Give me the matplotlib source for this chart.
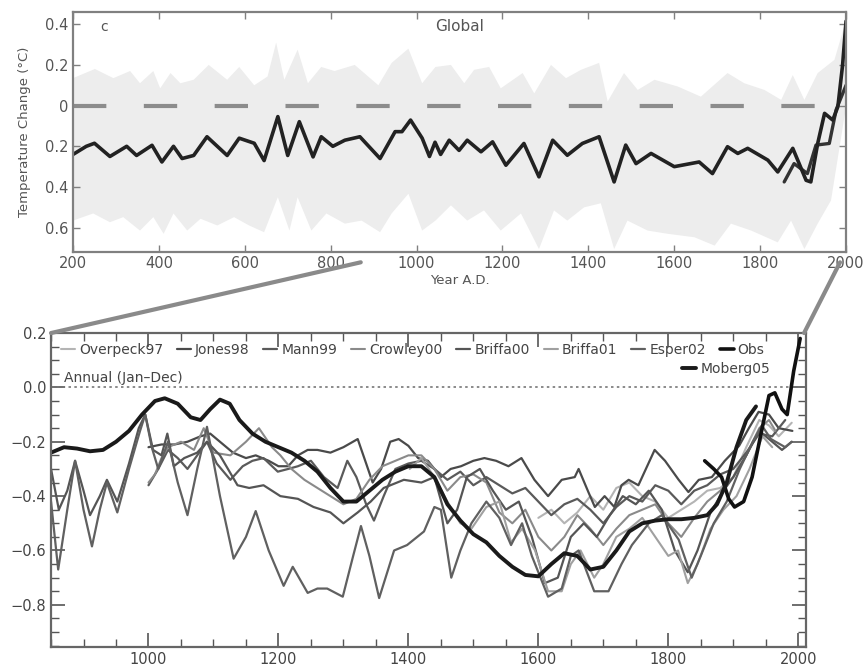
import numpy as np
import matplotlib
matplotlib.use("Agg")
import matplotlib.pyplot as plt
from matplotlib.patches import ConnectionPatch
from matplotlib.ticker import MultipleLocator, FixedLocator

plt.rcParams['font.family'] = ['DejaVu Sans']
plt.rcParams['lines.solid_joinstyle'] = 'round'
plt.rcParams['lines.solid_capstyle'] = 'round'

# ---- upper panel: global reconstruction with uncertainty band ----
glob_years = [200, 231, 250, 286, 325, 348, 384, 407, 434, 454, 481, 512, 559, 587, 622, 645,
              677, 700, 727, 759, 778, 805, 833, 868, 915, 950, 966, 986, 1013, 1030, 1043,
              1056, 1076, 1099, 1118, 1150, 1177, 1208, 1250, 1285, 1317, 1351, 1386, 1425,
              1460, 1487, 1511, 1546, 1600, 1658, 1689, 1724, 1748, 1771, 1818, 1841, 1876,
              1907, 1918, 1934, 1950, 1969, 1981, 1992, 2000]
glob_temp = [-0.24, -0.2, -0.185, -0.25, -0.2, -0.245, -0.195, -0.277, -0.2, -0.26, -0.245,
             -0.153, -0.245, -0.16, -0.185, -0.27, -0.054, -0.245, -0.079, -0.252, -0.153,
             -0.2, -0.17, -0.153, -0.26, -0.128, -0.128, -0.071, -0.16, -0.25, -0.18, -0.24,
             -0.17, -0.22, -0.17, -0.227, -0.178, -0.293, -0.186, -0.35, -0.17, -0.244,
             -0.186, -0.153, -0.375, -0.194, -0.285, -0.235, -0.3, -0.277, -0.334, -0.202,
             -0.235, -0.21, -0.268, -0.326, -0.21, -0.367, -0.375, -0.186, -0.038, -0.071,
             -0.005, 0.2, 0.415]

inst_years = [1856, 1879, 1910, 1930, 1961, 1977, 2000]
inst_temp = [-0.375, -0.285, -0.334, -0.194, -0.186, -0.02, 0.10]

band_up_years = [200, 251, 294, 333, 356, 387, 403, 427, 450, 481, 516, 559, 587, 622, 653,
                 673, 692, 723, 747, 778, 809, 856, 911, 942, 981, 1013, 1044, 1080, 1111,
                 1134, 1169, 1196, 1247, 1274, 1313, 1348, 1383, 1425, 1445, 1483, 1515,
                 1554, 1608, 1662, 1724, 1763, 1810, 1849, 1876, 1903, 1934, 1973, 2000]
band_upper = [0.135, 0.18, 0.135, 0.17, 0.11, 0.17, 0.085, 0.16, 0.11, 0.127, 0.2, 0.127,
              0.19, 0.1, 0.143, 0.31, 0.127, 0.275, 0.11, 0.19, 0.17, 0.2, 0.1, 0.21, 0.28,
              0.11, 0.19, 0.2, 0.11, 0.176, 0.19, 0.085, 0.16, 0.06, 0.2, 0.135, 0.176, 0.21,
              0.02, 0.16, 0.077, 0.127, 0.094, 0.044, 0.16, 0.11, 0.077, 0.028, 0.15, 0.028,
              0.16, 0.225, 0.42]
band_lo_years = [200, 247, 286, 317, 356, 387, 411, 434, 466, 497, 536, 575, 610, 645, 677,
                 704, 723, 755, 790, 833, 872, 915, 942, 981, 1013, 1044, 1080, 1118, 1157,
                 1196, 1243, 1285, 1320, 1351, 1390, 1429, 1460, 1491, 1538, 1585, 1647,
                 1694, 1732, 1779, 1841, 1872, 1903, 1934, 1965, 2000]
band_lower = [-0.565, -0.53, -0.573, -0.548, -0.614, -0.548, -0.63, -0.53, -0.614, -0.556,
              -0.589, -0.548, -0.589, -0.622, -0.45, -0.614, -0.45, -0.614, -0.53, -0.58,
              -0.565, -0.622, -0.53, -0.433, -0.614, -0.565, -0.49, -0.565, -0.515, -0.614,
              -0.53, -0.705, -0.515, -0.565, -0.5, -0.48, -0.705, -0.565, -0.614, -0.63,
              -0.647, -0.688, -0.58, -0.614, -0.672, -0.565, -0.705, -0.58, -0.466, -0.005]

top_ticks = [0.4, 0.2, 0, -0.2, -0.4, -0.6]
top_ticklabels = ['0.4', '0.2', '0', '0.2', '0.4', '0.6']

# ---- lower panel: NH reconstructions, last millennium ----
names = ['Overpeck97', 'Jones98', 'Mann99', 'Crowley00', 'Briffa00', 'Briffa01', 'Esper02', 'Obs']

overpeck_years = [1600, 1620, 1640, 1660, 1680, 1700, 1720, 1740, 1760, 1780, 1800, 1820, 1840,
                  1860, 1880, 1900, 1920, 1940, 1955, 1970, 1990]
overpeck = [-0.48, -0.45, -0.5, -0.46, -0.4, -0.45, -0.37, -0.35, -0.4, -0.42, -0.48, -0.45,
            -0.42, -0.38, -0.37, -0.33, -0.22, -0.12, -0.14, -0.18, -0.13]

jones_years = [1000, 1020, 1040, 1060, 1080, 1095, 1110, 1130, 1150, 1165, 1185, 1200, 1215,
               1230, 1245, 1260, 1280, 1300, 1322, 1335, 1345, 1358, 1372, 1385, 1400, 1415,
               1430, 1450, 1465, 1481, 1500, 1517, 1535, 1554, 1574, 1594, 1615, 1636, 1656,
               1662, 1677, 1687, 1702, 1717, 1728, 1739, 1754, 1779, 1795, 1816, 1831, 1847,
               1867, 1887, 1909, 1924, 1939, 1955, 1970, 1991]
jones = [-0.22, -0.21, -0.21, -0.2, -0.18, -0.17, -0.2, -0.24, -0.26, -0.25, -0.27, -0.29,
         -0.29, -0.25, -0.23, -0.23, -0.24, -0.22, -0.19, -0.28, -0.35, -0.3, -0.2, -0.19,
         -0.215, -0.26, -0.27, -0.33, -0.3, -0.29, -0.27, -0.26, -0.27, -0.29, -0.26, -0.34,
         -0.4, -0.34, -0.33, -0.3, -0.385, -0.44, -0.4, -0.44, -0.36, -0.34, -0.36, -0.23,
         -0.27, -0.34, -0.385, -0.34, -0.33, -0.27, -0.215, -0.15, -0.09, -0.1, -0.15, -0.16]

mann_years = [1000, 1015, 1030, 1045, 1060, 1075, 1090, 1105, 1126, 1145, 1160, 1177, 1199,
              1215, 1230, 1250, 1270, 1291, 1306, 1320, 1335, 1347, 1362, 1380, 1400, 1420,
              1440, 1460, 1480, 1500, 1520, 1540, 1560, 1580, 1600, 1620, 1640, 1660, 1680,
              1700, 1720, 1740, 1760, 1780, 1800, 1820, 1840, 1860, 1880, 1900, 1920, 1940,
              1960, 1980]
mann = [-0.36, -0.3, -0.23, -0.26, -0.3, -0.25, -0.2, -0.28, -0.34, -0.29, -0.27, -0.26, -0.31,
        -0.3, -0.29, -0.27, -0.33, -0.37, -0.27, -0.33, -0.43, -0.49, -0.4, -0.3, -0.28, -0.27,
        -0.3, -0.34, -0.31, -0.36, -0.33, -0.36, -0.39, -0.37, -0.42, -0.47, -0.43, -0.41,
        -0.45, -0.5, -0.44, -0.4, -0.42, -0.36, -0.38, -0.43, -0.38, -0.36, -0.32, -0.3, -0.24,
        -0.17, -0.18, -0.12]

crowley_years = [1000, 1010, 1020, 1030, 1050, 1070, 1085, 1100, 1126, 1150, 1170, 1190, 1203,
                 1220, 1240, 1260, 1280, 1300, 1320, 1340, 1360, 1380, 1400, 1420, 1440, 1460,
                 1480, 1500, 1520, 1540, 1560, 1580, 1600, 1620, 1640, 1660, 1680, 1700, 1720,
                 1740, 1760, 1780, 1800, 1820, 1840, 1860, 1880, 1900, 1920, 1940, 1955, 1965]
crowley = [-0.35, -0.32, -0.26, -0.22, -0.2, -0.23, -0.15, -0.24, -0.25, -0.2, -0.15, -0.22,
           -0.25, -0.3, -0.34, -0.37, -0.4, -0.43, -0.41, -0.34, -0.29, -0.27, -0.25, -0.25,
           -0.3, -0.38, -0.33, -0.32, -0.35, -0.46, -0.5, -0.45, -0.55, -0.6, -0.55, -0.47,
           -0.52, -0.58, -0.52, -0.47, -0.45, -0.43, -0.5, -0.55, -0.48, -0.42, -0.38, -0.33,
           -0.25, -0.15, -0.12, -0.16]

briffa00_years = [850, 862, 875, 887, 900, 910, 925, 936, 952, 970, 985, 995, 1007, 1020, 1029,
                  1039, 1055, 1075, 1090, 1110, 1137, 1155, 1177, 1203, 1230, 1254, 1280, 1300,
                  1322, 1342, 1362, 1393, 1420, 1440, 1460, 1475, 1490, 1510, 1530, 1550, 1570,
                  1590, 1610, 1630, 1650, 1670, 1690, 1710, 1730, 1750, 1770, 1790, 1810, 1830,
                  1845, 1865, 1885, 1900, 1920, 1940, 1960, 1975, 1990]
briffa00 = [-0.3, -0.45, -0.38, -0.27, -0.38, -0.47, -0.4, -0.34, -0.42, -0.28, -0.15, -0.1,
            -0.23, -0.25, -0.17, -0.29, -0.26, -0.24, -0.2, -0.25, -0.36, -0.37, -0.36, -0.4,
            -0.41, -0.44, -0.46, -0.5, -0.46, -0.42, -0.37, -0.34, -0.35, -0.33, -0.5, -0.45,
            -0.33, -0.3, -0.38, -0.45, -0.42, -0.55, -0.72, -0.7, -0.55, -0.5, -0.55, -0.47,
            -0.4, -0.43, -0.38, -0.45, -0.6, -0.68, -0.6, -0.46, -0.38, -0.33, -0.25, -0.16,
            -0.2, -0.23, -0.2]

briffa01_years = [1402, 1420, 1440, 1460, 1480, 1497, 1520, 1540, 1558, 1575, 1595, 1615, 1636,
                  1650, 1665, 1686, 1700, 1720, 1740, 1760, 1780, 1800, 1815, 1830, 1845, 1865,
                  1885, 1905, 1925, 1945, 1960]
briffa01 = [-0.3, -0.26, -0.33, -0.42, -0.5, -0.52, -0.44, -0.42, -0.57, -0.52, -0.6, -0.75,
            -0.75, -0.65, -0.6, -0.7, -0.65, -0.55, -0.52, -0.48, -0.55, -0.62, -0.6, -0.72,
            -0.65, -0.52, -0.45, -0.4, -0.3, -0.18, -0.22]

esper_years = [850, 861, 875, 887, 900, 913, 925, 936, 952, 970, 987, 995, 1005, 1015, 1030,
               1045, 1060, 1075, 1090, 1110, 1131, 1150, 1165, 1185, 1208, 1222, 1245, 1260,
               1275, 1299, 1315, 1327, 1340, 1355, 1378, 1398, 1424, 1440, 1450, 1466, 1480,
               1497, 1520, 1540, 1558, 1575, 1590, 1615, 1636, 1650, 1662, 1686, 1708, 1728,
               1744, 1770, 1790, 1816, 1836, 1850, 1870, 1890, 1910, 1930, 1944, 1958, 1980,
               1990]
esper = [-0.42, -0.67, -0.45, -0.27, -0.45, -0.585, -0.45, -0.35, -0.46, -0.3, -0.16, -0.1,
         -0.22, -0.3, -0.2, -0.35, -0.47, -0.3, -0.145, -0.4, -0.63, -0.55, -0.455, -0.6,
         -0.73, -0.66, -0.756, -0.74, -0.74, -0.77, -0.62, -0.51, -0.62, -0.775, -0.6, -0.58,
         -0.53, -0.44, -0.45, -0.7, -0.6, -0.5, -0.42, -0.48, -0.58, -0.5, -0.62, -0.77,
         -0.74, -0.62, -0.6, -0.75, -0.75, -0.65, -0.58, -0.5, -0.47, -0.56, -0.7, -0.62,
         -0.5, -0.42, -0.3, -0.2, -0.14, -0.19, -0.22, -0.2]

obs_years = [1856, 1870, 1882, 1893, 1902, 1916, 1929, 1941, 1955, 1964, 1975, 1983, 1993, 2003]
obs = [-0.27, -0.3, -0.33, -0.41, -0.44, -0.42, -0.33, -0.19, -0.03, -0.02, -0.08, -0.1,
       0.06, 0.18]

moberg_years = [850, 870, 890, 910, 930, 950, 970, 990, 1010, 1025, 1045, 1065, 1080, 1095,
                1110, 1125, 1140, 1160, 1180, 1200, 1220, 1240, 1260, 1280, 1300, 1320, 1340,
                1360, 1380, 1400, 1420, 1440, 1460, 1480, 1500, 1520, 1540, 1560, 1580, 1600,
                1620, 1640, 1660, 1680, 1700, 1720, 1740, 1760, 1780, 1800, 1820, 1840, 1860,
                1875, 1890, 1905, 1920, 1935]
moberg = [-0.24, -0.22, -0.225, -0.235, -0.23, -0.2, -0.16, -0.1, -0.05, -0.04, -0.06, -0.11,
          -0.12, -0.08, -0.045, -0.06, -0.12, -0.17, -0.2, -0.22, -0.24, -0.27, -0.31, -0.37,
          -0.42, -0.42, -0.38, -0.34, -0.31, -0.29, -0.29, -0.33, -0.43, -0.49, -0.54, -0.57,
          -0.62, -0.66, -0.69, -0.695, -0.65, -0.61, -0.62, -0.67, -0.66, -0.6, -0.53, -0.5,
          -0.49, -0.485, -0.485, -0.48, -0.47, -0.43, -0.35, -0.22, -0.12, -0.07]

series = [
    (overpeck_years, overpeck, '#b4b4b4', 1.5),
    (jones_years, jones, '#4a4a4a', 1.6),
    (mann_years, mann, '#5a5a5a', 1.6),
    (crowley_years, crowley, '#8a8a8a', 1.5),
    (briffa00_years, briffa00, '#555555', 1.6),
    (briffa01_years, briffa01, '#a0a0a0', 1.5),
    (esper_years, esper, '#606060', 1.6),
    (obs_years, obs, '#111111', 2.6),
]

fig = plt.figure(figsize=(8.68, 6.67), dpi=100)
grey_txt = '#555555'

# upper panel
ax1 = fig.add_axes([0.0841, 0.622, 0.8906, 0.360])
ax1.fill(np.r_[band_up_years, band_lo_years[::-1]], np.r_[band_upper, band_lower[::-1]],
         color='#ededed', lw=0)
ax1.axhline(0, color='#8c8c8c', lw=3, dashes=(8, 9))
ax1.plot(inst_years, inst_temp, color='#333333', lw=2.4)
ax1.plot(glob_years, glob_temp, color='#222222', lw=2.6)
ax1.set_xlim(200, 2000)
ax1.set_ylim(-0.72, 0.46)
ax1.xaxis.set_major_locator(MultipleLocator(200))
ax1.yaxis.set_major_locator(FixedLocator(top_ticks))
ax1.set_yticklabels(top_ticklabels)
ax1.tick_params(direction='in', top=True, right=True, length=5, width=1,
                color='#808080', labelcolor=grey_txt, labelsize=10.5, pad=3)
for s in ax1.spines.values():
    s.set_color('#808080')
    s.set_linewidth(1.6)
ax1.set_xlabel('Year A.D.', color=grey_txt, fontsize=9.5, labelpad=2)
ax1.set_ylabel('Temperature Change (°C)', color=grey_txt, fontsize=9.5, labelpad=10)
ax1.text(0.035, 0.92, 'c', transform=ax1.transAxes, color=grey_txt, fontsize=10)
ax1.text(0.5, 0.92, 'Global', transform=ax1.transAxes, color=grey_txt, fontsize=11,
         ha='center')

# lower panel
ax2 = fig.add_axes([0.0588, 0.030, 0.8698, 0.4707])
ax2.axhline(0, color='#777777', lw=1.2, ls=(0, (1.5, 2)))
handles = []
for (yrs, vals, col, lw), name in zip(series, names):
    ln, = ax2.plot(yrs, vals, color=col, lw=lw, label=name)
    handles.append(ln)
mob, = ax2.plot(moberg_years, moberg, color='#1a1a1a', lw=2.8, label='Moberg05')
ax2.set_xlim(850, 2012)
ax2.set_ylim(-0.955, 0.2)
ax2.xaxis.set_major_locator(MultipleLocator(200))
ax2.xaxis.set_minor_locator(MultipleLocator(50))
ax2.yaxis.set_major_locator(MultipleLocator(0.2))
ax2.yaxis.set_minor_locator(MultipleLocator(0.05))
ax2.yaxis.set_major_formatter(plt.FuncFormatter(lambda v, p: f'{v:.1f}'.replace('-', '\u2212')))
ax2.tick_params(which='both', direction='in', top=True, right=True, color='#555555',
                labelcolor='#444444', labelsize=10.5)
ax2.tick_params(which='major', length=10, width=1.2)
ax2.tick_params(which='minor', length=6, width=1)
for s in ax2.spines.values():
    s.set_color('#666666')
    s.set_linewidth(1.6)

leg1 = ax2.legend(handles=handles, ncol=8, loc='upper left', bbox_to_anchor=(0.0, 1.0),
                  frameon=False, fontsize=10, handlelength=1.0, handletextpad=0.3,
                  columnspacing=1.0, borderaxespad=0.3, labelcolor='#444444')
ax2.add_artist(leg1)
ax2.legend(handles=[mob], loc='upper right', bbox_to_anchor=(0.96, 0.925), frameon=False,
           fontsize=10, handlelength=1.0, handletextpad=0.3, borderaxespad=0.0,
           labelcolor='#444444')
ax2.text(870, 0.008, 'Annual (Jan\u2013Dec)', color='#444444', fontsize=10, va='bottom')

# zoom connectors between the panels
for xa, xb in [(870, 850), (1986, 2009)]:
    con = ConnectionPatch(xyA=(xa, -0.77), coordsA=ax1.transData,
                          xyB=(xb, 0.2), coordsB=ax2.transData,
                          color='#8a8a8a', lw=3)
    con.set_clip_on(False)
    fig.add_artist(con)

fig.savefig('out.png', dpi=100)
